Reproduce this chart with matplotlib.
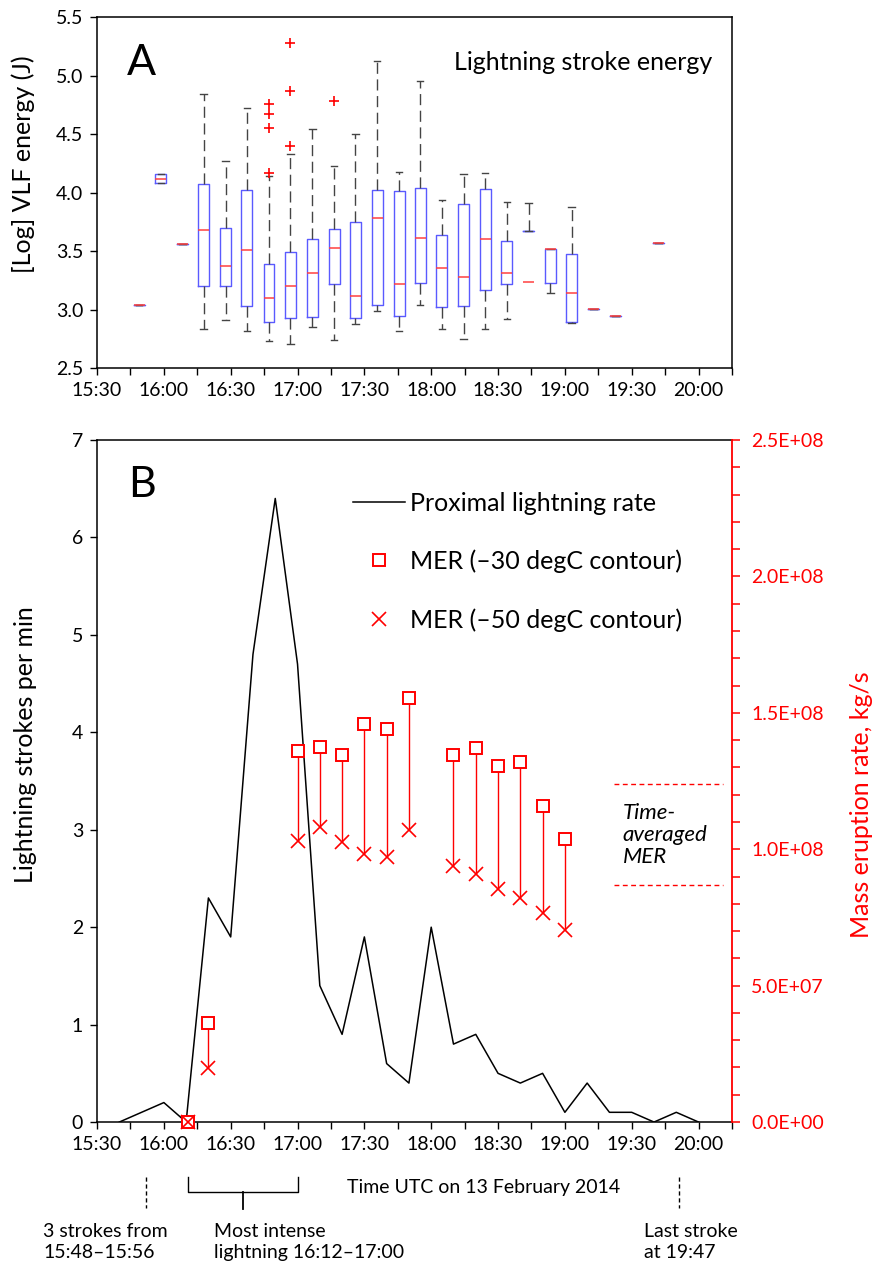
import numpy as np
import matplotlib
matplotlib.use('Agg')
import matplotlib.pyplot as plt
import matplotlib.transforms as mtransforms
from matplotlib.ticker import MultipleLocator, FuncFormatter
from matplotlib.lines import Line2D

plt.rcParams['font.family'] = ['Lato', 'DejaVu Sans']


def tmin(s):
    h, m = s.split(':')
    return int(h) * 60 + int(m)


def hhmm(v, pos=None):
    v = int(round(v))
    return '{}:{:02d}'.format(v // 60, v % 60)


# ---- panel A: lightning stroke energy boxes (minutes after midnight) ----
box_t = [948.9, 958.7, 968.3, 977.9, 987.8, 997.3, 1007.2, 1016.7, 1026.7, 1036.4, 1045.9, 1055.7,
         1065.6, 1075.0, 1084.8, 1094.5, 1104.2, 1114.0, 1123.7, 1133.4, 1143.1, 1152.9, 1162.6, 1182.0]
box_med = [3.04, 4.12, 3.56, 3.68, 3.375, 3.51, 3.10, 3.20, 3.31, 3.53, 3.12, 3.78,
           3.22, 3.61, 3.36, 3.28, 3.60, 3.31, 3.24, 3.52, 3.14, 3.01, 2.95, 3.57]
box_q1 = [3.04, 4.08, 3.56, 3.20, 3.20, 3.03, 2.895, 2.93, 2.94, 3.22, 2.93, 3.04,
          2.95, 3.23, 3.02, 3.03, 3.17, 3.22, 3.67, 3.23, 2.895, 3.01, 2.95, 3.57]
box_q3 = [3.04, 4.16, 3.56, 4.07, 3.70, 4.02, 3.39, 3.49, 3.60, 3.69, 3.75, 4.02,
          4.01, 4.04, 3.64, 3.90, 4.03, 3.59, 3.67, 3.52, 3.48, 3.01, 2.95, 3.57]
box_lo = [3.04, 4.08, 3.56, 2.84, 2.91, 2.82, 2.73, 2.71, 2.85, 2.74, 2.88, 2.99,
          2.82, 3.04, 2.84, 2.75, 2.84, 2.92, 3.67, 3.14, 2.89, 3.01, 2.95, 3.57]
box_hi = [3.04, 4.16, 3.56, 4.84, 4.27, 4.72, 4.14, 4.33, 4.54, 4.23, 4.50, 5.12,
          4.18, 4.95, 3.94, 4.16, 4.17, 3.92, 3.91, 3.52, 3.88, 3.01, 2.95, 3.57]
box_fliers = {6: [4.76, 4.67, 4.55, 4.17], 7: [5.28, 4.87, 4.40], 9: [4.78]}

# ---- panel B: lightning rate and MER ----
rate_t = ['15:40', '16:00', '16:10', '16:20', '16:30', '16:40', '16:50', '17:00', '17:10',
          '17:20', '17:30', '17:40', '17:50', '18:00', '18:10', '18:20', '18:30', '18:40',
          '18:50', '19:00', '19:10', '19:20', '19:30', '19:40', '19:50', '20:00']
rate = [0, 0.2, 0, 2.3, 1.9, 4.8, 6.4, 4.7, 1.4, 0.9, 1.9, 0.6, 0.4, 2.0, 0.8, 0.9,
        0.5, 0.4, 0.5, 0.1, 0.4, 0.1, 0.1, 0.0, 0.1, 0.0]

mer_t = ['16:11', '16:20', '17:00', '17:10', '17:20', '17:30', '17:40', '17:50',
         '18:10', '18:20', '18:30', '18:40', '18:50', '19:00']
mer30 = [0, 0.362e8, 1.36e8, 1.376e8, 1.344e8, 1.458e8, 1.44e8, 1.553e8,
         1.344e8, 1.37e8, 1.306e8, 1.321e8, 1.16e8, 1.037e8]
mer50 = [0, 0.199e8, 1.031e8, 1.082e8, 1.028e8, 0.982e8, 0.970e8, 1.07e8,
         0.94e8, 0.909e8, 0.853e8, 0.82e8, 0.767e8, 0.704e8]
mer_avg = [1.238e8, 0.869e8]
mer_avg_span = ['19:22', '20:11']

xlo, xhi = tmin('15:30'), tmin('20:15')
red = '#ff0000'

fig = plt.figure(figsize=(8.74, 12.64), dpi=100)
axA = fig.add_axes([0.111, 0.7086, 0.7265, 0.278])
axB = fig.add_axes([0.111, 0.1123, 0.7265, 0.5396])

for ax in (axA, axB):
    ax.set_xlim(xlo, xhi)
    ax.xaxis.set_major_locator(MultipleLocator(30))
    ax.xaxis.set_minor_locator(MultipleLocator(15))
    ax.xaxis.set_major_formatter(FuncFormatter(hhmm))
    ax.tick_params(which='both', direction='out', length=5, width=1, labelsize=14, pad=5)
    for s in ax.spines.values():
        s.set_linewidth(1.1)

# panel A
stats = []
for i in range(len(box_t)):
    stats.append(dict(med=box_med[i], q1=box_q1[i], q3=box_q3[i],
                      whislo=box_lo[i], whishi=box_hi[i], fliers=box_fliers.get(i, [])))
axA.bxp(stats, positions=box_t, widths=4.9, capwidths=3.0, manage_ticks=False,
        boxprops=dict(color='#5a5aff', lw=1),
        medianprops=dict(color='#ff4040', lw=1.1),
        whiskerprops=dict(color='#444444', lw=1, linestyle=(0, (8, 4))),
        capprops=dict(color='#444444', lw=1),
        flierprops=dict(marker='+', markeredgecolor=red, markersize=7, markeredgewidth=1.2))
axA.set_ylim(2.5, 5.5)
axA.yaxis.set_major_locator(MultipleLocator(0.5))
axA.yaxis.set_major_formatter(FuncFormatter(lambda v, p: '{:.1f}'.format(v)))
axA.set_ylabel('[Log] VLF energy (J)', fontsize=18)
axA.yaxis.set_label_coords(-0.097, 0.58)
axA.text(0.047, 0.87, 'A', transform=axA.transAxes, fontsize=31, va='center', ha='left')
axA.text(0.563, 0.87, 'Lightning stroke energy', transform=axA.transAxes, fontsize=18,
         va='center', ha='left')

# panel B
rt = [tmin(s) for s in rate_t]
axB.plot(rt, rate, color='black', lw=1.1)
axB.set_ylim(0, 7)
axB.yaxis.set_major_locator(MultipleLocator(1))
axB.set_ylabel('Lightning strokes per min', fontsize=18)
axB.yaxis.set_label_coords(-0.094, 0.554)
axB.spines['right'].set_visible(False)
axB.text(0.049, 0.934, 'B', transform=axB.transAxes, fontsize=31, va='center', ha='left')

axR = axB.twinx()
axR.set_xlim(xlo, xhi)
axR.set_ylim(0, 2.5e8)
for k in ('left', 'top', 'bottom'):
    axR.spines[k].set_visible(False)
axR.spines['right'].set_color(red)
axR.spines['right'].set_linewidth(1.3)
axR.yaxis.set_major_locator(MultipleLocator(0.5e8))
axR.yaxis.set_minor_locator(MultipleLocator(0.1e8))
axR.yaxis.set_major_formatter(FuncFormatter(lambda v, p: '{:.1E}'.format(v)))
axR.tick_params(axis='y', which='both', colors=red, direction='out', length=6, width=1.1,
                labelsize=14, pad=8)
axR.set_ylabel('Mass eruption rate, kg/s', fontsize=18, color=red)
axR.yaxis.set_label_coords(1.186, 0.465)

mt = [tmin(s) for s in mer_t]
axR.vlines(mt, mer50, mer30, color=red, lw=1)
axR.plot(mt, mer30, ls='none', marker='s', ms=8, mfc='white', mec=red, mew=1.4, clip_on=False)
axR.plot(mt, mer50, ls='none', marker='x', ms=10, mec=red, mew=1.2, clip_on=False)

x0, x1 = tmin(mer_avg_span[0]), tmin(mer_avg_span[1])
for v in mer_avg:
    axR.plot([x0, x1], [v, v], color=red, lw=1, ls=(0, (3.5, 2.5)))
axR.text(tmin('19:26'), 1.052e8, 'Time-\naveraged\nMER', fontsize=16, style='italic',
         va='center', ha='left', linespacing=1.1)

handles = [Line2D([], [], color='black', lw=1.1),
           Line2D([], [], ls='none', marker='s', ms=8, mfc='white', mec=red, mew=1.4),
           Line2D([], [], ls='none', marker='x', ms=10, mec=red, mew=1.2)]
labels = ['Proximal lightning rate', 'MER (\u201330 degC contour)', 'MER (\u201350 degC contour)']
axR.legend(handles, labels, loc='center left', bbox_to_anchor=(0.403, 0.8215), frameon=False,
           fontsize=18, handlelength=2.1, handletextpad=0.2, labelspacing=1.4,
           borderpad=0, borderaxespad=0)

# annotations below panel B
tr = mtransforms.blended_transform_factory(axB.transData, axB.transAxes)
axB.plot([tmin('15:52')] * 2, [-0.080, -0.126], transform=tr, clip_on=False,
         color='black', lw=1, ls=(0, (3, 2)))
axB.plot([tmin('19:51')] * 2, [-0.080, -0.126], transform=tr, clip_on=False,
         color='black', lw=1, ls=(0, (3, 2)))
b0, b1 = tmin('16:11'), tmin('17:00')
axB.plot([b0, b0, b1, b1], [-0.080, -0.103, -0.103, -0.080], transform=tr, clip_on=False,
         color='black', lw=1)
axB.plot([(b0 + b1) / 2] * 2, [-0.103, -0.128], transform=tr, clip_on=False,
         color='black', lw=1.3)

fig.text(43 / 874, 1 - 1242 / 1264, '3 strokes from\n15:48\u201315:56', fontsize=14,
         va='center', ha='left', linespacing=1.3)
fig.text(214 / 874, 1 - 1242 / 1264, 'Most intense\nlightning 16:12\u201317:00', fontsize=14,
         va='center', ha='left', linespacing=1.3)
fig.text(644 / 874, 1 - 1242 / 1264, 'Last stroke\nat 19:47', fontsize=14,
         va='center', ha='left', linespacing=1.3)
fig.text(347 / 874, 1 - 1187 / 1264, 'Time UTC on 13 February 2014', fontsize=14,
         va='center', ha='left')

fig.savefig('out.png', dpi=100)
